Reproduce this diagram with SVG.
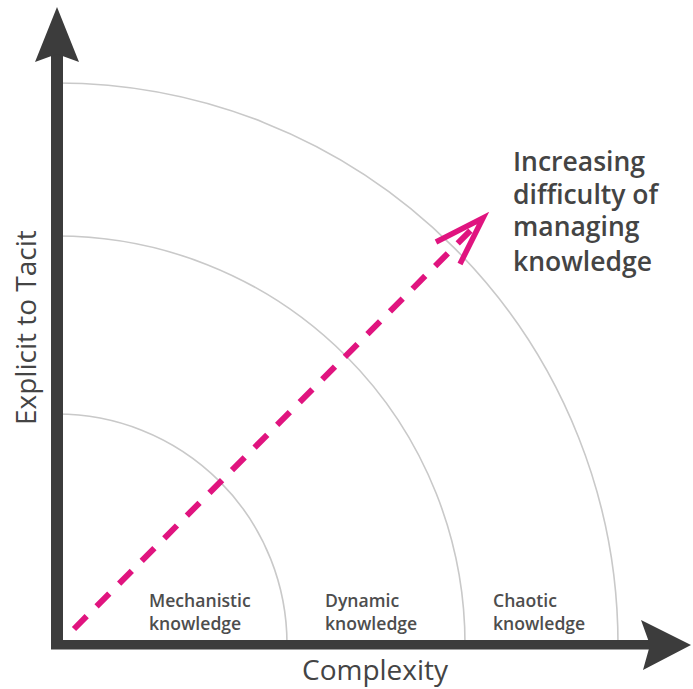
<svg xmlns="http://www.w3.org/2000/svg" width="693" height="689" viewBox="0 0 693 689">
<style>
.arc{fill:none;stroke:#c9c9c9;stroke-width:1.6}
.axis{fill:#3c3c3c}
.lbl{font-family:"Open Sans","Noto Sans",sans-serif;font-weight:600;font-size:17.6px;fill:#4d4d4d}
.big{font-family:"Open Sans","Noto Sans",sans-serif;font-weight:600;font-size:26.5px;fill:#444}
.title{font-family:"Open Sans","Noto Sans",sans-serif;font-weight:500;font-size:28px;fill:#444}
</style>
<rect width="693" height="689" fill="#fff"/>
<g id="arcs">
<path class="arc" d="M57,414 A230,230 0 0 1 287,644"/>
<path class="arc" d="M57,236 A408,408 0 0 1 465,644"/>
<path class="arc" d="M57,83 A561,561 0 0 1 618,644"/>
</g>
<g id="axes">
<rect class="axis" x="51" y="50" width="12" height="599"/>
<path class="axis" d="M57,7 L79,62 L57,54 L35,62 Z"/>
<rect class="axis" x="51" y="640" width="600" height="9.5"/>
<path class="axis" d="M691,645 L641,620 L650,645 L643,670 Z"/>
</g>
<g id="connectors">
<line x1="74" y1="629" x2="476" y2="225" stroke="#e0147f" stroke-width="6" stroke-dasharray="18,14"/>
<polyline points="436,242 483,218 460,264" fill="none" stroke="#e0147f" stroke-width="5.5" stroke-linejoin="miter"/>
</g>
<g id="label-y"><text class="title" transform="translate(36,425) rotate(-90)">Explicit to Tacit</text></g>
<g id="label-x"><text class="title" x="302" y="680">Complexity</text></g>
<g id="label-trend">
<text class="big"><tspan x="513" y="171">Increasing</tspan><tspan x="513" y="204">difficulty of</tspan><tspan x="513" y="236">managing</tspan><tspan x="513" y="271">knowledge</tspan></text>
</g>
<g id="mechanistic"><text class="lbl"><tspan x="149" y="607">Mechanistic</tspan><tspan x="149" y="630">knowledge</tspan></text></g>
<g id="dynamic"><text class="lbl"><tspan x="325" y="607">Dynamic</tspan><tspan x="325" y="630">knowledge</tspan></text></g>
<g id="chaotic"><text class="lbl"><tspan x="493" y="607">Chaotic</tspan><tspan x="493" y="630">knowledge</tspan></text></g>
</svg>
